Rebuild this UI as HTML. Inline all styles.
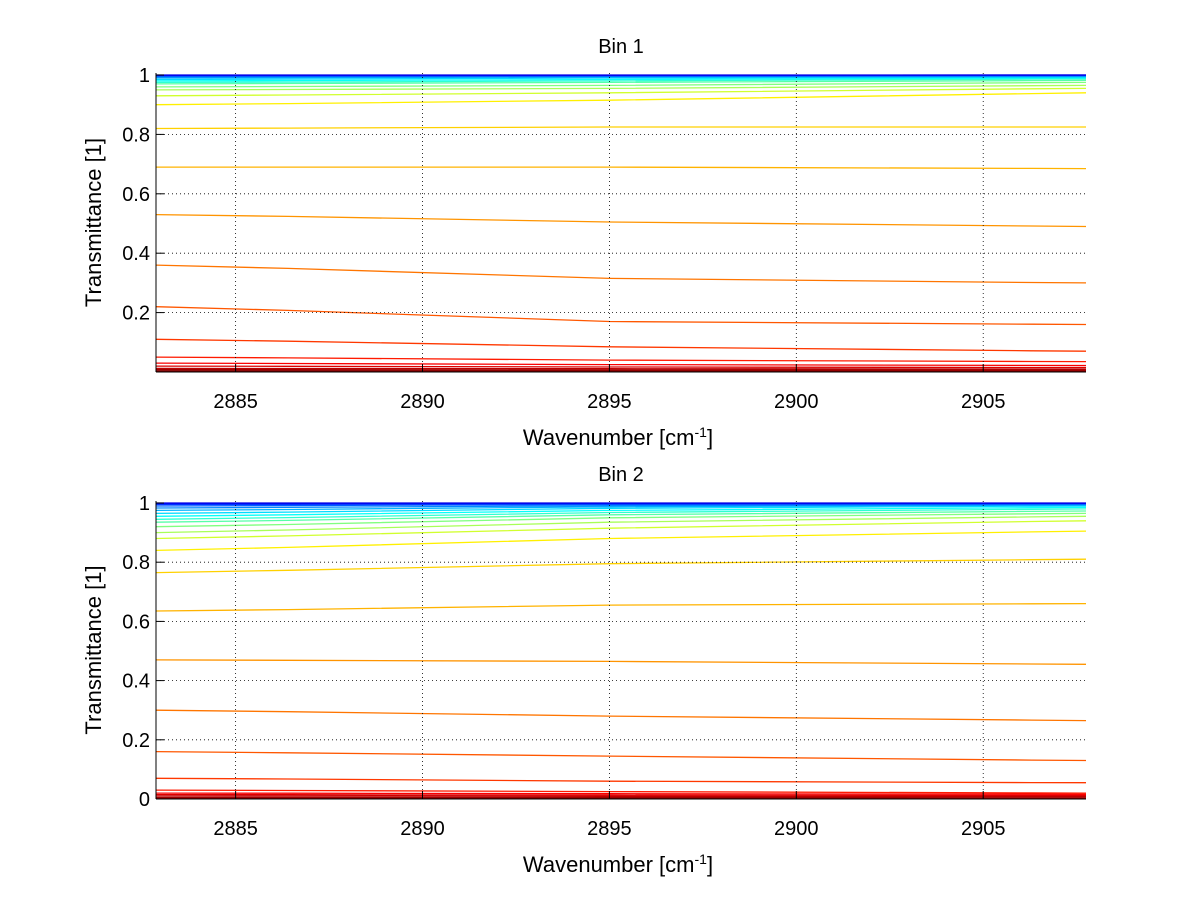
<!DOCTYPE html>
<html><head><meta charset="utf-8">
<style>
html,body{margin:0;padding:0;background:#fff;}
svg{display:block;font-family:"Liberation Sans",Arial,sans-serif;}
</style></head>
<body>
<svg id="chart" width="1200" height="901" viewBox="0 0 1200 901"></svg>
<script>
// ---- data ----
const xTicks = [2885, 2890, 2895, 2900, 2905];
const xDomain = [2882.87, 2907.75];
const yTicks1 = [0.2, 0.4, 0.6, 0.8, 1];
const yTicks2 = [0, 0.2, 0.4, 0.6, 0.8, 1];
const sampleX = [2882.87, 2886.4, 2895, 2906.3, 2907.75];
// Bin 1 series: values at start / mid / end
const bin1Start = [0.004,0.008,0.012,0.02,0.03,0.05,0.11,0.22,0.36,0.53,0.69,0.82,0.90,0.93,0.95,0.96,0.97,0.975,0.98,0.985,0.99,0.993,0.996,0.998,0.999,1.0];
const bin1Mid   = [0.004,0.007,0.011,0.017,0.025,0.04,0.085,0.17,0.315,0.505,0.69,0.825,0.915,0.94,0.955,0.965,0.975,0.98,0.985,0.99,0.993,0.995,0.997,0.998,0.999,1.0];
const bin1End   = [0.004,0.006,0.01,0.015,0.022,0.035,0.07,0.16,0.30,0.49,0.685,0.825,0.94,0.955,0.965,0.975,0.982,0.987,0.99,0.993,0.995,0.997,0.998,0.999,1.0,1.0];
// Bin 2 series
const bin2Start = [0.002,0.005,0.01,0.015,0.02,0.03,0.07,0.16,0.30,0.47,0.635,0.765,0.84,0.88,0.90,0.92,0.935,0.945,0.955,0.965,0.975,0.983,0.99,0.995,0.998,1.0];
const bin2Mid   = [0.002,0.005,0.009,0.013,0.018,0.025,0.06,0.145,0.28,0.465,0.655,0.795,0.88,0.915,0.935,0.95,0.96,0.968,0.975,0.982,0.987,0.991,0.995,0.997,0.999,1.0];
const bin2End   = [0.002,0.004,0.008,0.012,0.016,0.02,0.055,0.13,0.265,0.455,0.66,0.81,0.905,0.94,0.955,0.965,0.973,0.98,0.985,0.99,0.993,0.995,0.997,0.998,0.999,1.0];

const NS='http://www.w3.org/2000/svg';
const svg=document.getElementById('chart');
function el(tag,attrs,parent){const e=document.createElementNS(NS,tag);for(const k in attrs)e.setAttribute(k,attrs[k]);(parent||svg).appendChild(e);return e;}
function jet(v){
  function c(x){return Math.max(0,Math.min(1,x));}
  const r=c(1.5-Math.abs(4*v-3)), g=c(1.5-Math.abs(4*v-2)), b=c(1.5-Math.abs(4*v-1));
  return 'rgb('+Math.round(r*255)+','+Math.round(g*255)+','+Math.round(b*255)+')';
}
function colorPos(i,n){
  const k=12;
  if(i<=k) return 1 - i*(0.36/k);
  return 0.62 - (i-k)/(n-1-k)*0.52;
}
function panel(name,top,bottom,yTicks,title,startA,midA,endA){
  const L=156,R=1086;
  const sx=v=>L+(v-xDomain[0])/(xDomain[1]-xDomain[0])*(R-L);
  const sy=v=>bottom-v*(bottom-top-2);
  const g=el('g',{});
  
  
  const n=startA.length;
  for(let i=0;i<n;i++){
    const mid=midA[i];
    const vals=[startA[i], startA[i]+(mid-startA[i])*0.25, mid, mid+(endA[i]-mid)*0.9, endA[i]];
    const pts=sampleX.map((x,k)=>sx(x).toFixed(1)+','+Math.max(top+1,sy(vals[k])).toFixed(1)).join(' ');
    const p=el('polyline',{points:pts,fill:'none',stroke:jet(colorPos(i,n)),'stroke-width':1.3},g);
    
    
  }
  xTicks.forEach(t=>{
    const gl=el('line',{x1:sx(t),x2:sx(t),y1:top,y2:bottom,stroke:'#000','stroke-width':0.8,'stroke-dasharray':'1,3'},g);
    
    
    el('line',{x1:sx(t),x2:sx(t),y1:bottom,y2:bottom-8,stroke:'#000'},g);
    const tx=el('text',{x:sx(t),y:bottom+36,'font-size':20,'text-anchor':'middle'},g);
    tx.textContent=t;
    
    
  });
  yTicks.forEach(t=>{
    const y=sy(t);
    if(t<1){
      const gl=el('line',{x1:L,x2:R,y1:y,y2:y,stroke:'#000','stroke-width':0.8,'stroke-dasharray':'1,3'},g);
      
      
    }
    el('line',{x1:L,x2:L+8,y1:y,y2:y,stroke:'#000'},g);
    const tx=el('text',{x:L-6,y:y+7,'font-size':20,'text-anchor':'end'},g);
    tx.textContent=t;
    
    
  });
  const ax=el('line',{x1:L,x2:L,y1:top,y2:bottom,stroke:'#000','stroke-width':1},g);
  
  
  const bx=el('line',{x1:L,x2:R,y1:bottom,y2:bottom,stroke:'#000','stroke-width':1},g);
  
  
  const tt=el('text',{x:621,y:top-20,'font-size':20,'text-anchor':'middle'},g);
  tt.textContent=title;
  
  
  const xl=el('text',{x:618,y:bottom+73,'font-size':22,'text-anchor':'middle'},g);
  xl.innerHTML='Wavenumber [cm<tspan dy="-8" font-size="14">-1</tspan><tspan dy="8">]</tspan>';
  
  
  const cy=(top+bottom)/2;
  const yl=el('text',{x:101,y:cy,'font-size':22,'text-anchor':'middle',transform:'rotate(-90 101 '+cy+')'},g);
  yl.textContent='Transmittance [1]';
  
  
}
panel('bin-1-panel',73,372,yTicks1,'Bin 1',bin1Start,bin1Mid,bin1End);
panel('bin-2-panel',501,799,yTicks2,'Bin 2',bin2Start,bin2Mid,bin2End);
</script>
</body></html>
